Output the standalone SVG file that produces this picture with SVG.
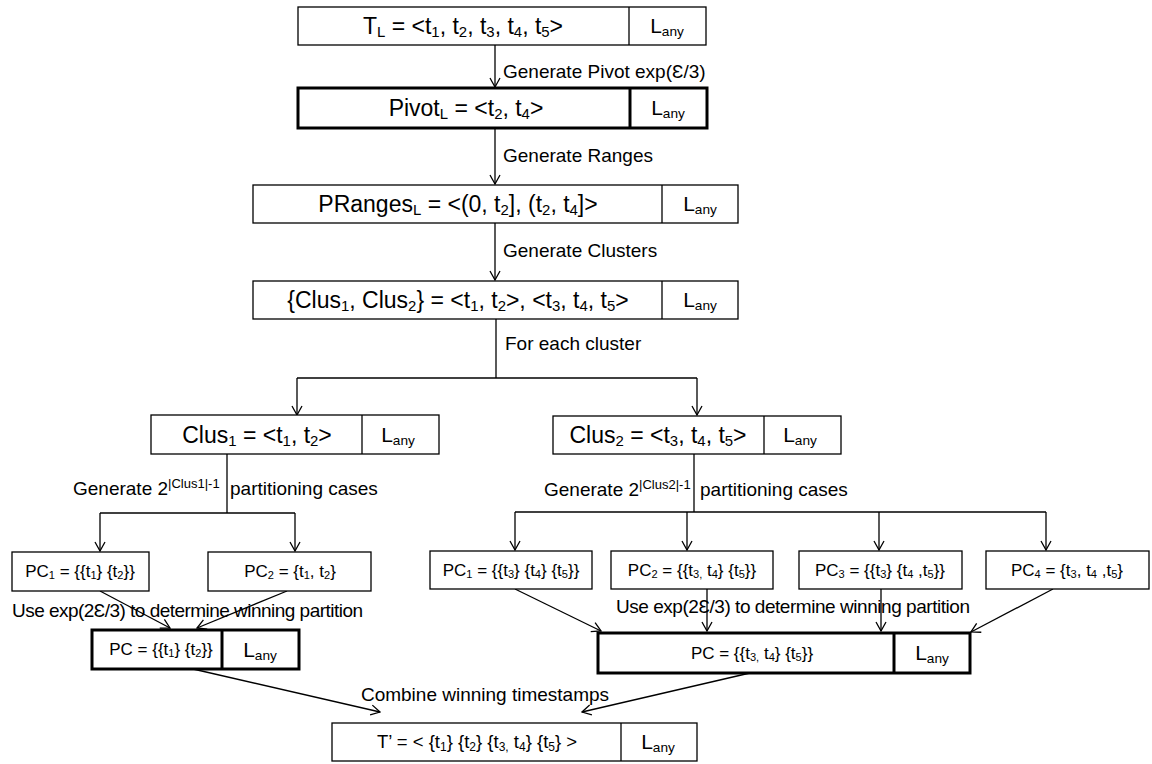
<svg xmlns="http://www.w3.org/2000/svg" width="1152" height="764" viewBox="0 0 1152 764">
<style>
text{font-family:"Liberation Sans",Arial,sans-serif;fill:#000}
.m{font-size:23px;text-anchor:middle}
.l{font-size:19px}
.p{font-size:17px;text-anchor:middle}
.t{font-size:18.5px;text-anchor:middle}
.la{font-size:21px;text-anchor:middle}
.s{font-size:65%;baseline-shift:-0.22em}
.sp{font-size:13px;baseline-shift:0.55em}
.box{fill:#fff;stroke:#000;stroke-width:1.3}
.thick{fill:#fff;stroke:#000;stroke-width:3}
.ln{fill:none;stroke:#000;stroke-width:1.3}
</style>
<defs>
<marker id="ah" viewBox="0 0 12 12" refX="11" refY="6" markerWidth="12" markerHeight="12" orient="auto" markerUnits="userSpaceOnUse">
<path d="M2,1 L11,6 L2,11" fill="none" stroke="#000" stroke-width="1.3"/>
</marker>
</defs>
<rect width="1152" height="764" fill="#fff"/>

<g id="connectors">
<line class="ln" x1="495" y1="45" x2="495" y2="87" marker-end="url(#ah)"/>
<line class="ln" x1="495" y1="128" x2="495" y2="184" marker-end="url(#ah)"/>
<line class="ln" x1="495" y1="223" x2="495" y2="280" marker-end="url(#ah)"/>
<polyline class="ln" points="496,319 496,378"/>
<polyline class="ln" points="297,378 697,378"/>
<line class="ln" x1="297" y1="378" x2="297" y2="415" marker-end="url(#ah)"/>
<line class="ln" x1="697" y1="378" x2="697" y2="415" marker-end="url(#ah)"/>
<polyline class="ln" points="227,454 227,513"/>
<polyline class="ln" points="100,513 295,513"/>
<line class="ln" x1="100" y1="513" x2="100" y2="551" marker-end="url(#ah)"/>
<line class="ln" x1="295" y1="513" x2="295" y2="551" marker-end="url(#ah)"/>
<polyline class="ln" points="694,454 694,512"/>
<polyline class="ln" points="515,512 1046,512"/>
<line class="ln" x1="515" y1="512" x2="515" y2="550" marker-end="url(#ah)"/>
<line class="ln" x1="687" y1="512" x2="687" y2="550" marker-end="url(#ah)"/>
<line class="ln" x1="879" y1="512" x2="879" y2="550" marker-end="url(#ah)"/>
<line class="ln" x1="1046" y1="512" x2="1046" y2="550" marker-end="url(#ah)"/>
<line class="ln" x1="100" y1="591" x2="170" y2="628" marker-end="url(#ah)"/>
<line class="ln" x1="287" y1="591" x2="197" y2="628" marker-end="url(#ah)"/>
<line class="ln" x1="515" y1="589" x2="601" y2="631" marker-end="url(#ah)"/>
<line class="ln" x1="707" y1="589" x2="707" y2="631" marker-end="url(#ah)"/>
<line class="ln" x1="881" y1="589" x2="881" y2="631" marker-end="url(#ah)"/>
<line class="ln" x1="1053" y1="589" x2="971" y2="632" marker-end="url(#ah)"/>
<line class="ln" x1="193" y1="669" x2="380" y2="712" marker-end="url(#ah)"/>
<line class="ln" x1="750" y1="673" x2="582" y2="712" marker-end="url(#ah)"/>
</g>

<g id="edge-labels">
<text class="l" x="503" y="78">Generate Pivot exp(Ɛ/3)</text>
<text class="l" x="503" y="162">Generate Ranges</text>
<text class="l" x="503" y="257">Generate Clusters</text>
<text class="l" x="505" y="350">For each cluster</text>
<text class="l" x="73" y="495">Generate 2<tspan class="sp">|Clus1|-1</tspan><tspan x="230">partitioning cases</tspan></text>
<text class="l" x="544" y="496">Generate 2<tspan class="sp">|Clus2|-1</tspan><tspan x="700">partitioning cases</tspan></text>
<text class="l" x="12" y="617" textLength="351">Use exp(2Ɛ/3) to determine winning partition</text>
<text class="l" x="616" y="613" textLength="354">Use exp(2Ɛ/3) to determine winning partition</text>
<text class="l" x="485" y="701" text-anchor="middle">Combine winning timestamps</text>
</g>

<g id="node-TL">
<rect class="box" x="298" y="7" width="408" height="38"/>
<line class="ln" x1="629" y1="7" x2="629" y2="45"/>
<text class="m" x="463" y="34">T<tspan class="s">L</tspan> = &lt;t<tspan class="s">1</tspan>, t<tspan class="s">2</tspan>, t<tspan class="s">3</tspan>, t<tspan class="s">4</tspan>, t<tspan class="s">5</tspan>&gt;</text>
<text class="la" x="667" y="33">L<tspan class="s">any</tspan></text>
</g>

<g id="node-Pivot">
<rect class="thick" x="298" y="88" width="409" height="40"/>
<line class="thick" x1="630" y1="88" x2="630" y2="128"/>
<text class="m" x="466" y="116">Pivot<tspan class="s">L</tspan> = &lt;t<tspan class="s">2</tspan>, t<tspan class="s">4</tspan>&gt;</text>
<text class="la" x="668" y="115">L<tspan class="s">any</tspan></text>
</g>

<g id="node-PRanges">
<rect class="box" x="253" y="185" width="485" height="38"/>
<line class="ln" x1="662" y1="185" x2="662" y2="223"/>
<text class="m" x="458" y="212">PRanges<tspan class="s">L</tspan> = &lt;(0, t<tspan class="s">2</tspan>], (t<tspan class="s">2</tspan>, t<tspan class="s">4</tspan>]&gt;</text>
<text class="la" x="700" y="211">L<tspan class="s">any</tspan></text>
</g>

<g id="node-Clusters">
<rect class="box" x="253" y="281" width="485" height="38"/>
<line class="ln" x1="662" y1="281" x2="662" y2="319"/>
<text class="m" x="458" y="308">{Clus<tspan class="s">1</tspan>, Clus<tspan class="s">2</tspan>} = &lt;t<tspan class="s">1</tspan>, t<tspan class="s">2</tspan>&gt;, &lt;t<tspan class="s">3</tspan>, t<tspan class="s">4</tspan>, t<tspan class="s">5</tspan>&gt;</text>
<text class="la" x="700" y="307">L<tspan class="s">any</tspan></text>
</g>

<g id="node-Clus1">
<rect class="box" x="151" y="415" width="288" height="39"/>
<line class="ln" x1="362" y1="415" x2="362" y2="454"/>
<text class="m" x="257" y="443">Clus<tspan class="s">1</tspan> = &lt;t<tspan class="s">1</tspan>, t<tspan class="s">2</tspan>&gt;</text>
<text class="la" x="398" y="442">L<tspan class="s">any</tspan></text>
</g>

<g id="node-Clus2">
<rect class="box" x="553" y="416" width="288" height="38"/>
<line class="ln" x1="764" y1="416" x2="764" y2="454"/>
<text class="m" x="658" y="443">Clus<tspan class="s">2</tspan> = &lt;t<tspan class="s">3</tspan>, t<tspan class="s">4</tspan>, t<tspan class="s">5</tspan>&gt;</text>
<text class="la" x="800" y="442">L<tspan class="s">any</tspan></text>
</g>

<g id="node-L-PC1">
<rect class="box" x="12" y="552" width="137" height="39"/>
<text class="p" x="80" y="577">PC<tspan class="s">1</tspan> = {{t<tspan class="s">1</tspan>} {t<tspan class="s">2</tspan>}}</text>
</g>
<g id="node-L-PC2">
<rect class="box" x="208" y="552" width="163" height="39"/>
<text class="p" x="290" y="577">PC<tspan class="s">2</tspan> = {t<tspan class="s">1</tspan>, t<tspan class="s">2</tspan>}</text>
</g>

<g id="node-R-PC1">
<rect class="box" x="430" y="551" width="162" height="38"/>
<text class="p" x="511" y="576">PC<tspan class="s">1</tspan> = {{t<tspan class="s">3</tspan>} {t<tspan class="s">4</tspan>} {t<tspan class="s">5</tspan>}}</text>
</g>
<g id="node-R-PC2">
<rect class="box" x="611" y="551" width="162" height="38"/>
<text class="p" x="692" y="576">PC<tspan class="s">2</tspan> = {{t<tspan class="s">3,</tspan> t<tspan class="s">4</tspan>} {t<tspan class="s">5</tspan>}}</text>
</g>
<g id="node-R-PC3">
<rect class="box" x="799" y="551" width="163" height="38"/>
<text class="p" x="880" y="576">PC<tspan class="s">3</tspan> = {{t<tspan class="s">3</tspan>} {t<tspan class="s">4</tspan> ,t<tspan class="s">5</tspan>}}</text>
</g>
<g id="node-R-PC4">
<rect class="box" x="986" y="551" width="163" height="38"/>
<text class="p" x="1067" y="576">PC<tspan class="s">4</tspan> = {t<tspan class="s">3</tspan>, t<tspan class="s">4</tspan> ,t<tspan class="s">5</tspan>}</text>
</g>

<g id="node-L-PC">
<rect class="thick" x="92" y="630" width="207" height="39"/>
<line class="thick" x1="222" y1="630" x2="222" y2="669"/>
<text class="p" x="161" y="655">PC = {{t<tspan class="s">1</tspan>} {t<tspan class="s">2</tspan>}}</text>
<text class="la" x="260" y="657">L<tspan class="s">any</tspan></text>
</g>

<g id="node-R-PC">
<rect class="thick" x="598" y="633" width="372" height="40"/>
<line class="thick" x1="894" y1="633" x2="894" y2="673"/>
<text class="p" x="752" y="659">PC = {{t<tspan class="s">3,</tspan> t<tspan class="s">4</tspan>} {t<tspan class="s">5</tspan>}}</text>
<text class="la" x="932" y="660">L<tspan class="s">any</tspan></text>
</g>

<g id="node-Tprime">
<rect class="box" x="332" y="723" width="365" height="38"/>
<line class="ln" x1="621" y1="723" x2="621" y2="761"/>
<text class="t" x="477" y="748">T’ = &lt; {t<tspan class="s">1</tspan>} {t<tspan class="s">2</tspan>} {t<tspan class="s">3,</tspan> t<tspan class="s">4</tspan>} {t<tspan class="s">5</tspan>} &gt;</text>
<text class="la" x="658" y="749">L<tspan class="s">any</tspan></text>
</g>
</svg>
